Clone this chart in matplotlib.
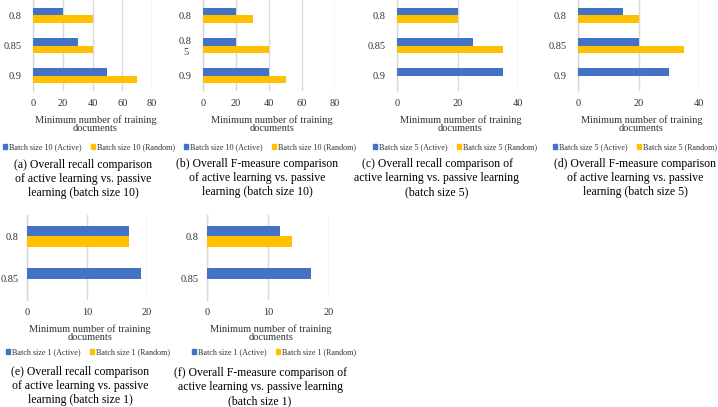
import matplotlib
matplotlib.use('Agg')
import matplotlib.pyplot as plt
from matplotlib.patches import Patch

plt.rcParams['font.family'] = ['Liberation Serif', 'DejaVu Serif']

# categories (F-measure / recall threshold)
cats3 = ['0.8', '0.85', '0.9']
cats3_wrapped = ['0.8', '0.8\n5', '0.9']
cats2 = ['0.8', '0.85']

# minimum number of training documents (0 = no bar shown)
recall_b10_active = [20, 30, 50]
recall_b10_random = [40, 40, 70]
fmeasure_b10_active = [20, 20, 40]
fmeasure_b10_random = [30, 40, 50]
recall_b5_active = [20, 25, 35]
recall_b5_random = [20, 35, 0]
fmeasure_b5_active = [15, 20, 30]
fmeasure_b5_random = [20, 35, 0]
recall_b1_active = [17, 19]
recall_b1_random = [17, 0]
fmeasure_b1_active = [12, 17]
fmeasure_b1_random = [14, 0]

BLUE = '#4472C4'
GOLD = '#FFC000'
GRID = '#D9D9D9'

W, H = 718, 407
fig = plt.figure(figsize=(W / 100, H / 100), dpi=100)


def fx(x):
    return x / W


def fy(y):
    return 1 - y / H


def panel(x0, x1, y0, y1, cats, active, random, xmax, xstep, batch, caption,
          cap_x, cap_y, leg_x, leg_y, ypad=8):
    ax = fig.add_axes([fx(x0), fy(y1), fx(x1 - x0), (y1 - y0) / H])
    n = len(cats)
    h = 0.25
    pos = list(range(n))
    ax.barh([p - h / 2 for p in pos], active, height=h, color=BLUE, zorder=3)
    ax.barh([p + h / 2 for p in pos], random, height=h, color=GOLD, zorder=3)
    ax.set_ylim(n - 0.5, -0.5)
    ax.set_xlim(0, xmax)
    ax.set_xticks(range(0, xmax + 1, xstep))
    ax.set_yticks(pos)
    ax.set_yticklabels(cats, multialignment='center')
    ax.tick_params(length=0, labelsize=7.5, colors='#333333')
    ax.tick_params(axis='y', pad=ypad)
    ax.tick_params(axis='x', pad=6)
    ax.xaxis.grid(True, color=GRID, linewidth=1, zorder=0)
    for s in ['top', 'right', 'bottom']:
        ax.spines[s].set_visible(False)
    ax.spines['left'].set_color(GRID)
    ax.spines['left'].set_linewidth(1)
    ax.set_zorder(1)

    cx = (x0 + x1) / 2
    fig.text(fx(cx + 3), fy(y1 + 33), 'Minimum number of training\ndocuments',
             ha='center', va='center', fontsize=7.5, color='#333333',
             linespacing=0.95)
    handles = [Patch(color=BLUE, label='Batch size %d (Active)' % batch),
               Patch(color=GOLD, label='Batch size %d (Random)' % batch)]
    ax.legend(handles=handles, loc='center', bbox_to_anchor=(fx(leg_x), fy(leg_y)),
              bbox_transform=fig.transFigure, ncol=2, frameon=False,
              fontsize=5.9, handlelength=0.55, handleheight=0.55,
              handletextpad=0.2, columnspacing=1.1, labelcolor='#333333')
    fig.text(fx(cap_x), fy(cap_y), caption, ha='center', va='center',
             fontsize=8.5, linespacing=1.2)
    return ax


panel(33, 152, 0, 91, cats3, recall_b10_active, recall_b10_random, 80, 20, 10,
      '(a) Overall recall comparison\nof active learning vs. passive\nlearning (batch size 10)',
      83, 179, 89, 147)
panel(203, 335, 0, 91, cats3_wrapped, fmeasure_b10_active, fmeasure_b10_random, 80, 20, 10,
      '(b) Overall F-measure comparison\nof active learning vs. passive\nlearning (batch size 10)',
      257, 178, 270, 147)
panel(397, 518, 0, 91, cats3, recall_b5_active, recall_b5_random, 40, 20, 5,
      '(c) Overall recall comparison of\nactive learning vs. passive learning\n(batch size 5)',
      437, 178, 455, 147)
panel(578, 699, 0, 91, cats3, fmeasure_b5_active, fmeasure_b5_random, 40, 20, 5,
      '(d) Overall F-measure comparison\nof active learning vs. passive\nlearning (batch size 5)',
      635, 178, 635, 147)
panel(27, 147, 215, 300, cats2, recall_b1_active, recall_b1_random, 20, 10, 1,
      '(e) Overall recall comparison\nof active learning vs. passive\nlearning (batch size 1)',
      80, 386, 88, 352, ypad=6)
panel(207, 329, 215, 300, cats2, fmeasure_b1_active, fmeasure_b1_random, 20, 10, 1,
      '(f) Overall F-measure comparison of\nactive learning vs. passive learning\n(batch size 1)',
      260, 387, 274, 352, ypad=6)

fig.savefig('out.png', dpi=100)
